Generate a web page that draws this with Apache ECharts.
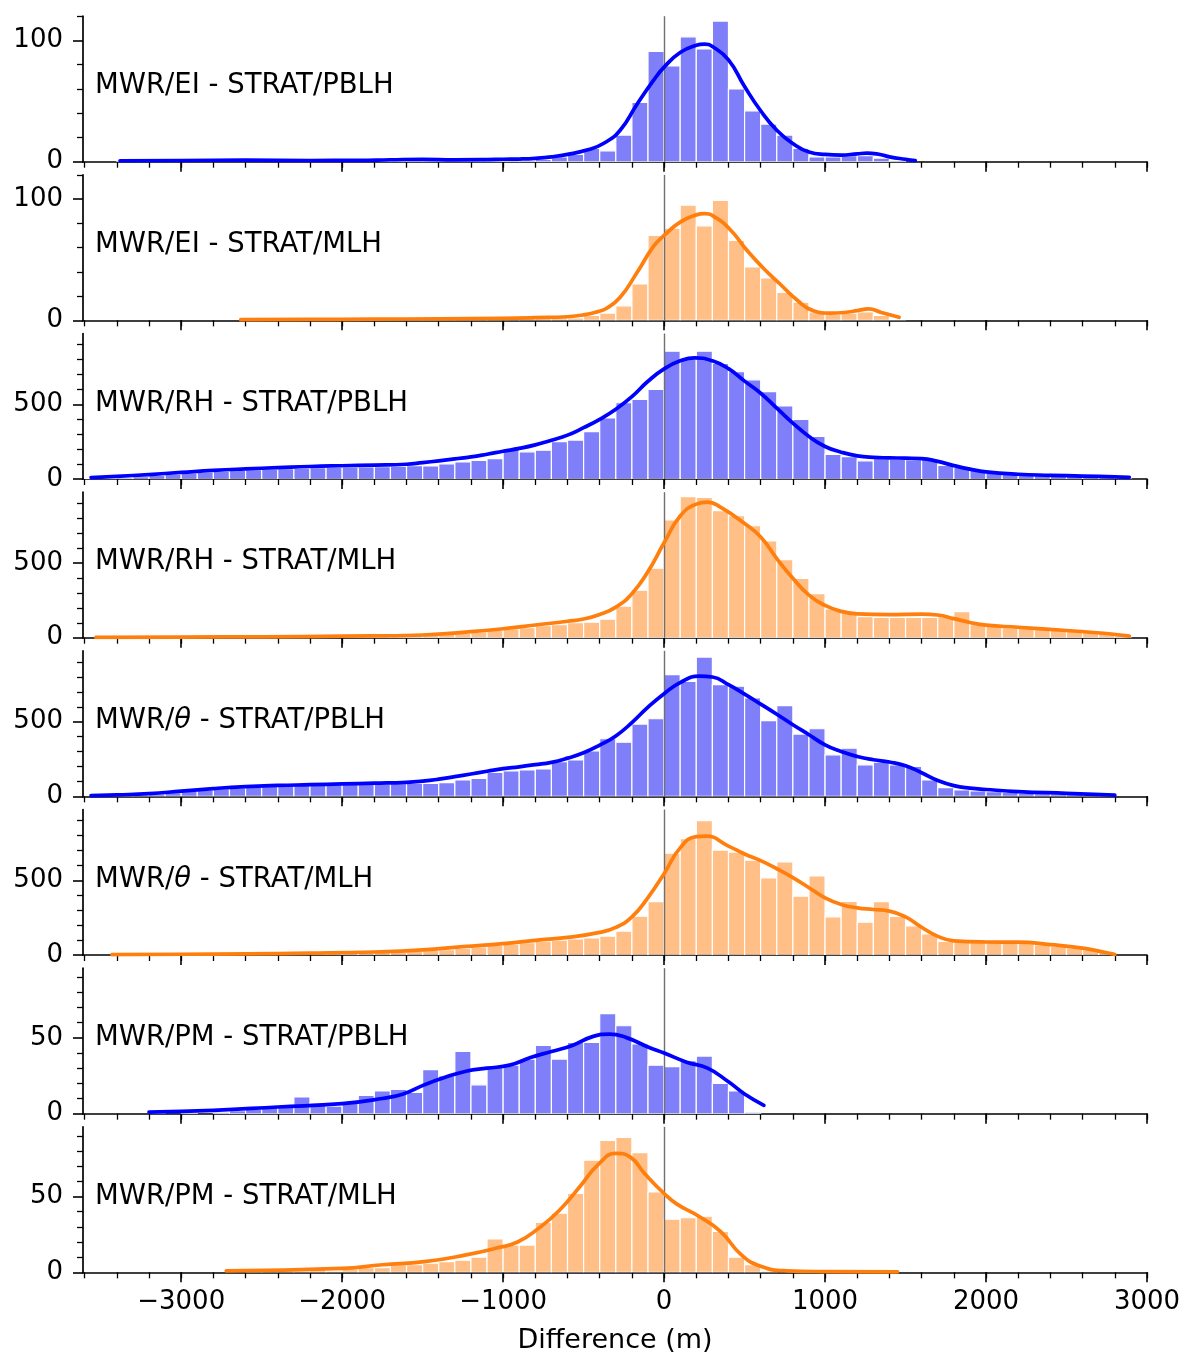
<!DOCTYPE html>
<html>
<head>
<meta charset="utf-8">
<script src="https://cdn.jsdelivr.net/npm/echarts@6/dist/echarts.min.js"></script>
<style>
  html, body { margin: 0; padding: 0; background: #fff; }
  #chart { width: 1192px; height: 1356px; }
</style>
</head>
<body>
<div id="chart"></div>
<script>
// Histogram bin width (m); counts are consecutive bins starting at each *Start edge
const BIN = 100;

// MWR/EI - STRAT/PBLH
const eiPblStart = -3400;
const eiPblCounts = [1,0,1,1,1,0,1,1,1,1, 0,1,1,0,1,1,1,1,2,2, 2,1,1,2,2,1,2,4,6,11,
  9,22,49,91,79,103,93,116,60,42, 31,22,11,4,4,5,5,3,1];
const eiPblKde = [[-3380,0.8],[-3000,1.0],[-2600,1.3],[-2200,1.0],[-1900,1.1],[-1700,1.6],[-1500,2.0],
  [-1300,1.5],[-1100,1.7],[-1000,2.0],[-900,2.2],[-800,2.8],[-700,4],[-600,6],[-480,9.6],[-377,15],
  [-273,26],[-170,47],[-66,67],[0,78],[100,90],[200,96],[250,97],[300,95],[400,84],[500,62],
  [600,42],[700,26],[800,15],[900,8],[1000,6],[1100,5.5],[1200,6.5],[1260,7],[1320,6.5],
  [1400,4],[1500,2],[1560,1]];

// MWR/EI - STRAT/MLH
const eiMlhStart = -2600;
const eiMlhCounts = [1,0,1,0,1,1,0,1,1,1, 1,1,1,2,1,2,1,2,2,2, 2,4,6,12,30,70,76,95,78,99,
  66,44,35,23,15,7,5,6,7,4, 1];
const eiMlhKde = [[-2630,0.6],[-2200,0.8],[-1800,1.0],[-1400,1.3],[-1000,1.7],[-800,2.2],[-600,3],
  [-500,4.5],[-418,7],[-356,10],[-273,19],[-170,39],[-66,61],[0,70],[100,81],[200,87],[250,88],
  [306,86],[410,75],[513,58],[617,43],[720,30],[824,17],[927,8],[1031,6],[1120,6.5],[1200,8],
  [1270,9.5],[1350,6.5],[1460,2.5]];

// MWR/RH - STRAT/PBLH
const rhPblStart = -3600;
const rhPblCounts = [2,5,10,16,24,32,40,46,52,57, 62,66,70,73,76,78,80,82,83,85,
  90,88,102,114,125,136,205,182,193,250, 261,318,409,511,534,600,857,805,857,775,
  720,665,585,490,400,285,165,150,122,136, 132,130,136,92,80,58,40,34,30,27,
  23,20,18,15,10];
const rhPblKde = [[-3560,10],[-3400,18],[-3200,30],[-3000,44],[-2800,58],[-2600,68],[-2400,76],
  [-2200,84],[-2000,89],[-1800,93],[-1600,99],[-1500,110],[-1400,122],[-1300,135],[-1200,148],
  [-1100,166],[-1000,186],[-900,205],[-800,229],[-700,260],[-600,294],[-500,344],[-400,400],
  [-300,468],[-200,552],[-100,655],[0,738],[100,792],[190,812],[300,792],[400,740],[500,656],
  [600,575],[700,475],[800,375],[900,285],[1000,218],[1100,180],[1200,155],[1300,145],[1400,142],
  [1500,140],[1600,137],[1700,118],[1800,90],[1900,66],[2000,48],[2200,32],[2400,25],[2600,20],
  [2800,15],[2890,11]];

// MWR/RH - STRAT/MLH
const rhMlhStart = -3500;
const rhMlhCounts = [1,1,2,2,2,3,3,4,4,5, 5,6,7,8,9,10,11,12,14,16,
  18,22,30,38,48,58,68,80,88,100, 104,125,212,318,466,790,945,940,852,818,
  750,648,523,398,295,193,170,141,136,136, 136,136,141,175,88,75,68,62,55,50,
  45,38,28,15];
const rhMlhKde = [[-3530,2],[-3000,4],[-2500,6],[-2000,10],[-1500,18],[-1200,40],[-1000,60],
  [-800,85],[-600,110],[-500,125],[-400,155],[-300,205],[-200,295],[-100,443],[0,636],[100,815],
  [200,895],[270,909],[350,875],[500,765],[600,675],[700,530],[800,398],[900,285],[1000,216],
  [1100,176],[1200,160],[1400,155],[1600,158],[1700,152],[1800,128],[1900,102],[2000,84],
  [2200,70],[2500,48],[2750,28],[2890,10]];

// MWR/θ - STRAT/PBLH
const thPblStart = -3500;
const thPblCounts = [2,5,10,16,25,34,42,50,57,62, 66,70,73,76,78,80,82,84,85,86,
  87,92,110,121,161,170,177,184,233,244, 305,386,363,484,520,816,771,933,749,738,
  659,507,608,417,453,278,323,211,229,211, 200,110,58,43,36,31,27,22,18,16,
  13,9,7];
const thPblKde = [[-3560,5],[-3400,10],[-3200,18],[-3000,35],[-2800,52],[-2600,65],[-2400,73],
  [-2200,78],[-2000,83],[-1800,88],[-1600,94],[-1500,102],[-1400,115],[-1300,132],[-1200,150],
  [-1100,168],[-1000,186],[-900,198],[-800,212],[-700,228],[-600,256],[-500,292],[-400,343],
  [-300,405],[-200,494],[-100,598],[0,688],[100,762],[220,806],[300,800],[400,748],[500,685],
  [600,618],[700,550],[800,480],[900,413],[1000,345],[1100,300],[1200,267],[1300,245],[1400,230],
  [1500,205],[1600,158],[1700,106],[1800,72],[1900,55],[2000,46],[2200,32],[2500,20],[2800,8]];

// MWR/θ - STRAT/MLH
const thMlhStart = -3400;
const thMlhCounts = [1,1,2,2,3,3,4,5,6,7, 8,9,11,12,14,16,18,22,26,30,
  36,45,55,65,72,82,92,100,108,114, 126,159,260,357,682,780,900,703,690,635,
  517,624,394,530,256,360,220,357,259,195, 142,91,87,92,92,96,87,70,58,47,
  36,20];
const thMlhKde = [[-3430,3],[-3000,5],[-2600,8],[-2200,12],[-1800,20],[-1500,34],[-1250,56],
  [-1000,76],[-800,98],[-600,118],[-400,152],[-300,185],[-200,255],[-100,385],[0,545],[100,718],
  [200,793],[260,797],[400,730],[500,677],[600,632],[700,578],[800,518],[900,451],[1000,383],
  [1100,339],[1200,316],[1300,305],[1400,294],[1500,255],[1600,186],[1700,125],[1800,95],
  [2000,87],[2200,86],[2400,70],[2600,46],[2750,15],[2800,3]];

// MWR/PM - STRAT/PBLH
const pmPblStart = -3200;
const pmPblCounts = [1,0,1,0,1,2,3,4,5,11, 7,5,8,12,15,16,14,29,25,41,
  19,31,32,36,45,36,47,47,66,58, 46,32,31,35,38,20,15,1];
const pmPblKde = [[-3200,1],[-2800,2.2],[-2400,4.4],[-2000,6.6],[-1750,10],[-1620,13],[-1490,19],
  [-1360,24],[-1230,28],[-1100,30],[-960,32],[-830,37],[-700,41],[-570,45],[-440,51],[-340,52.5],
  [-230,50],[-100,44],[0,40],[140,34],[270,30],[400,21],[500,13],[620,5.5]];

// MWR/PM - STRAT/MLH
const pmMlhStart = -2700;
const pmMlhCounts = [0,1,1,1,1,2,1,2,3,3, 5,5,6,7,8,10,22,18,18,33,
  39,52,74,87,89,79,53,35,36,37, 27,10,5,1];
const pmMlhKde = [[-2720,1],[-2000,2.6],[-1750,5],[-1490,7],[-1230,11.5],[-1040,16],[-910,20],
  [-780,29],[-650,41],[-520,57],[-410,71],[-300,78.5],[-210,76],[-120,65],[0,52],[80,45],[215,37],
  [350,27],[480,11.5],[600,4],[760,1],[1000,0.5],[1450,0.3]];

// Axis ticks
const xMajorTicks = [-3000, -2000, -1000, 0, 1000, 2000, 3000];
const xMinorTicks = [-3600,-3400,-3200,-3000,-2800,-2600,-2400,-2200,-2000,-1800,-1600,-1400,-1200,
  -1000,-800,-600,-400,-200,0,200,400,600,800,1000,1200,1400,1600,1800,2000,2200,2400,2600,2800,3000];
const yTicksEi = { major: [0, 100], minor: [20, 40, 60, 80, 120] };
const yTicksRh = { major: [0, 500], minor: [100, 200, 300, 400, 600, 700, 800, 900] };
const yTicksPm = { major: [0, 50], minor: [10, 20, 30, 40, 60, 70, 80, 90] };

const BLUE = { line: '#0000ff', fill: 'rgba(0,0,245,0.5)' };
const ORANGE = { line: '#ff7f0e', fill: 'rgba(255,127,14,0.5)' };

const panels = [
  { label: 'MWR/EI - STRAT/PBLH', c: BLUE, start: eiPblStart, counts: eiPblCounts, kde: eiPblKde, ymax: 120, ticks: yTicksEi },
  { label: 'MWR/EI - STRAT/MLH', c: ORANGE, start: eiMlhStart, counts: eiMlhCounts, kde: eiMlhKde, ymax: 120, ticks: yTicksEi },
  { label: 'MWR/RH - STRAT/PBLH', c: BLUE, start: rhPblStart, counts: rhPblCounts, kde: rhPblKde, ymax: 975, ticks: yTicksRh },
  { label: 'MWR/RH - STRAT/MLH', c: ORANGE, start: rhMlhStart, counts: rhMlhCounts, kde: rhMlhKde, ymax: 975, ticks: yTicksRh },
  { label: 'MWR/{it|θ} - STRAT/PBLH', c: BLUE, start: thPblStart, counts: thPblCounts, kde: thPblKde, ymax: 975, ticks: yTicksRh },
  { label: 'MWR/{it|θ} - STRAT/MLH', c: ORANGE, start: thMlhStart, counts: thMlhCounts, kde: thMlhKde, ymax: 975, ticks: yTicksRh },
  { label: 'MWR/PM - STRAT/PBLH', c: BLUE, start: pmPblStart, counts: pmPblCounts, kde: pmPblKde, ymax: 96, ticks: yTicksPm },
  { label: 'MWR/PM - STRAT/MLH', c: ORANGE, start: pmMlhStart, counts: pmMlhCounts, kde: pmMlhKde, ymax: 96, ticks: yTicksPm }
];

const FONT = 'DejaVu Sans';
const X_MIN = -3610, X_MAX = 3000;
const GRID_LEFT = 83, GRID_WIDTH = 1064;
const FIRST_BOTTOM = 161.7, STEP = 158.66, PANEL_H = 145.5;

const fmtMinus = v => (v < 0 ? '\u2212' + Math.abs(v) : String(v));

const grid = [], xAxis = [], yAxis = [], series = [], graphic = [];

panels.forEach((p, i) => {
  const top = FIRST_BOTTOM + STEP * i - PANEL_H;
  const last = i === panels.length - 1;
  grid.push({ left: GRID_LEFT, width: GRID_WIDTH, top: top, height: PANEL_H });

  // main x axis: spine, long ticks, labels on the bottom panel only
  xAxis.push({
    type: 'value', gridIndex: i, min: X_MIN, max: X_MAX, position: 'bottom',
    axisLine: { show: true, onZero: false, lineStyle: { color: '#000', width: 1.7 } },
    axisTick: { show: true, customValues: xMajorTicks, length: 10, lineStyle: { color: '#000', width: 1.6 } },
    axisLabel: { show: last, customValues: xMajorTicks, formatter: fmtMinus, margin: 17,
      fontSize: 26, fontFamily: FONT, color: '#000' },
    splitLine: { show: false },
    name: last ? 'Difference (m)' : '', nameLocation: 'middle', nameGap: 55,
    nameTextStyle: { fontSize: 27, fontFamily: FONT, color: '#000' }
  });
  // minor x ticks
  xAxis.push({
    type: 'value', gridIndex: i, min: X_MIN, max: X_MAX, position: 'bottom',
    axisLine: { show: false, onZero: false },
    axisTick: { show: true, customValues: xMinorTicks, length: 6, lineStyle: { color: '#000', width: 1.3 } },
    axisLabel: { show: false }, splitLine: { show: false }
  });

  // main y axis
  yAxis.push({
    type: 'value', gridIndex: i, min: 0, max: p.ymax, position: 'left',
    axisLine: { show: true, onZero: false, lineStyle: { color: '#000', width: 1.7 } },
    axisTick: { show: true, customValues: p.ticks.major, length: 10, lineStyle: { color: '#000', width: 1.6 } },
    axisLabel: { show: true, customValues: p.ticks.major, margin: 20, fontSize: 26, fontFamily: FONT, color: '#000' },
    splitLine: { show: false }
  });
  // minor y ticks
  yAxis.push({
    type: 'value', gridIndex: i, min: 0, max: p.ymax, position: 'left', offset: 0,
    axisLine: { show: false, onZero: false },
    axisTick: { show: true, customValues: p.ticks.minor, length: 6, lineStyle: { color: '#000', width: 1.3 } },
    axisLabel: { show: false }, splitLine: { show: false }
  });

  const histData = p.counts.map((c, k) => [p.start + k * BIN, c]);
  const fill = p.c.fill;
  series.push({
    type: 'custom', xAxisIndex: 2 * i, yAxisIndex: 2 * i, z: 2, clip: true,
    data: histData,
    renderItem: (params, api) => {
      const x0 = api.value(0), c = api.value(1);
      if (!c) return null;
      const a = api.coord([x0, c]);
      const b = api.coord([x0 + BIN, 0]);
      return {
        type: 'rect',
        shape: { x: a[0], y: a[1], width: b[0] - a[0], height: b[1] - a[1] },
        style: { fill: fill, stroke: '#fff', lineWidth: 1.2 }
      };
    },
    markLine: {
      silent: true, symbol: 'none', animation: false,
      label: { show: false },
      lineStyle: { color: '#707070', width: 1.4, type: 'solid' },
      data: [{ xAxis: 0 }]
    }
  });

  series.push({
    type: 'line', xAxisIndex: 2 * i, yAxisIndex: 2 * i, z: 5,
    data: p.kde, showSymbol: false, smooth: 0.5,
    lineStyle: { color: p.c.line, width: 3.7, cap: 'round', join: 'round' },
    itemStyle: { color: p.c.line }
  });

  graphic.push({
    type: 'text', x: 95, y: top + 70, z: 10,
    style: {
      text: p.label, fill: '#000', fontSize: 27.5, fontFamily: FONT,
      align: 'left', verticalAlign: 'middle',
      rich: { it: { fontStyle: 'italic', fontSize: 27.5, fontFamily: FONT, fill: '#000' } }
    }
  });
});

const chart = echarts.init(document.getElementById('chart'), null, { renderer: 'canvas' });
chart.setOption({
  backgroundColor: '#fff',
  animation: false,
  grid, xAxis, yAxis, series, graphic
});
</script>
</body>
</html>
